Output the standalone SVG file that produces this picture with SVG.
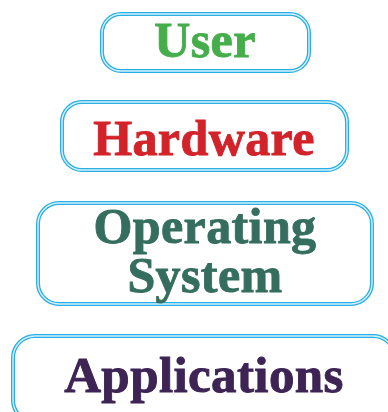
<svg xmlns="http://www.w3.org/2000/svg" width="388" height="412" viewBox="0 0 388 412">
  <style>
    .frame { fill: #ffffff; stroke: #29aee6; stroke-width: 4; }
    .gap { fill: none; stroke: #d4f1fc; stroke-width: 1.4; }
    .label { font-family: "Liberation Serif", "Times New Roman", serif; font-weight: bold; font-size: 50px; text-anchor: middle; stroke-width: 0.9; letter-spacing: 0.4px; }
  </style>
  <rect width="388" height="412" fill="#ffffff"/>
  <g id="user">
    <rect class="frame" x="102" y="14" width="207" height="57" rx="19"/>
    <rect class="gap" x="102" y="14" width="207" height="57" rx="19"/>
    <text class="label" x="205" y="57" fill="#45ae4b" stroke="#45ae4b">User</text>
  </g>
  <g id="hardware">
    <rect class="frame" x="62" y="102" width="285" height="68" rx="20"/>
    <rect class="gap" x="62" y="102" width="285" height="68" rx="20"/>
    <text class="label" x="204" y="155" fill="#d2232a" stroke="#d2232a">Hardware</text>
  </g>
  <g id="operating-system">
    <rect class="frame" x="38" y="203" width="334" height="101" rx="21"/>
    <rect class="gap" x="38" y="203" width="334" height="101" rx="21"/>
    <text class="label" fill="#356e5e" stroke="#356e5e"><tspan x="205" y="243">Operating</tspan><tspan x="205" y="292">System</tspan></text>
  </g>
  <g id="applications">
    <rect class="frame" x="13" y="336" width="382" height="86" rx="22"/>
    <rect class="gap" x="13" y="336" width="382" height="86" rx="22"/>
    <text class="label" x="204" y="392" fill="#3d2454" stroke="#3d2454" style="font-size:51px">Applications</text>
  </g>
  <g id="connectors"></g>
</svg>
